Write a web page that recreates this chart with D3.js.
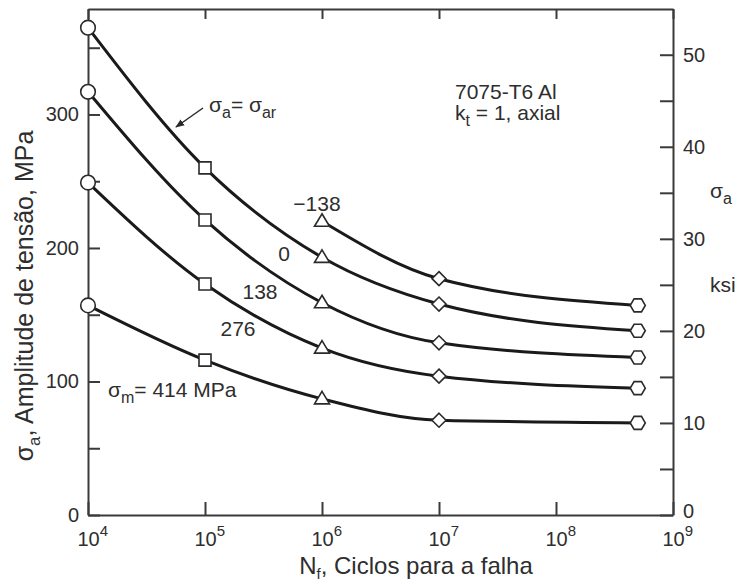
<!DOCTYPE html>
<html lang="pt">
<head>
  <meta charset="UTF-8" />
  <title>7075-T6 Al - curvas S-N</title>
  <style>
    body { margin: 0; background: #fff; }
    svg { display: block; font-family: 'Liberation Sans', Arial, sans-serif; }
    .axis path, .axis line { stroke: #3a3a3a; stroke-width: 2px; }
    .axis text { font-size: 20px; fill: #2e2e2e; font-family: 'Liberation Sans', Arial, sans-serif; }
    .curve { fill: none; stroke: #1a1a1a; stroke-width: 3px; }
    .marker { fill: #fff; stroke: #2a2a2a; stroke-width: 1.6px; }
    .lbl { fill: #2e2e2e; font-size: 21px; }
    .title { fill: #2e2e2e; font-size: 25px; }
  </style>
</head>
<body>
  <svg id="chart" width="739" height="584"></svg>

  <script src="https://d3js.org/d3.v7.min.js"></script>
  <script>
    // dados (MPa)
    const cycles = [1e4, 1e5, 1e6, 1e7, 5e8];
    const markerShapes = ["circle", "square", "triangle", "diamond", "hexagon"];
    const meanStress = [-138, 0, 138, 276, 414];
    const ampM138 = [null, null, 220, 177, 157];
    const amp0 = [365, 260, 193, 158, 138];
    const amp138 = [317, 221, 159, 129, 118];
    const amp276 = [249, 173, 125, 104, 95];
    const amp414 = [157, 116, 87, 71, 69];
    const seriesValues = [ampM138, amp0, amp138, amp276, amp414];

    const xTicks = [1e4, 1e5, 1e6, 1e7, 1e8, 1e9];
    const mpaTicks = [0, 50, 100, 150, 200, 250, 300, 350];
    const mpaLabels = [0, 100, 200, 300];
    const ksiTicks = [0, 5, 10, 15, 20, 25, 30, 35, 40, 45, 50];
    const ksiLabels = [0, 10, 20, 30, 40, 50];
    const MPA_PER_KSI = 6.895;

    const svg = d3.select("#chart");
    const plotLeft = 88, plotRight = 673, plotTop = 9, plotBottom = 515;
    const yMax = 379;

    const x = d3.scaleLog().domain([1e4, 1e9]).range([plotLeft, plotRight]);
    const y = d3.scaleLinear().domain([0, yMax]).range([plotBottom, plotTop]);
    const yKsi = d3.scaleLinear().domain([0, yMax / MPA_PER_KSI]).range([plotBottom, plotTop]);

    // eixos (ticks para dentro)
    const xAxis = svg.append("g").attr("class", "axis")
      .attr("transform", `translate(0,${plotBottom})`)
      .call(d3.axisBottom(x).tickValues(xTicks).tickSize(-13).tickSizeOuter(0));

    xAxis.selectAll(".tick text").each(function (d) {
      const t = d3.select(this);
      t.text(null).attr("dy", null).attr("y", 31).attr("x", -11).attr("text-anchor", "start");
      t.append("tspan").text("10");
      t.append("tspan").attr("dy", -10).style("font-size", "15px").text(Math.round(Math.log10(d)));
    });

    svg.append("g").attr("class", "axis")
      .attr("transform", `translate(0,${plotTop})`)
      .call(d3.axisTop(x).tickValues(xTicks).tickSize(-10).tickSizeOuter(0).tickFormat(""));

    svg.append("g").attr("class", "axis")
      .attr("transform", `translate(${plotLeft},0)`)
      .call(d3.axisLeft(y).tickValues(mpaTicks).tickSize(-12).tickSizeOuter(0).tickPadding(9)
        .tickFormat(d => mpaLabels.includes(d) ? d : ""));

    const rightAxis = svg.append("g").attr("class", "axis")
      .attr("transform", `translate(${plotRight},0)`)
      .call(d3.axisRight(yKsi).tickValues(ksiTicks).tickSize(-13).tickSizeOuter(0).tickPadding(10)
        .tickFormat(d => ksiLabels.includes(d) ? d : ""));
    // o "0" da direita fica um pouco acima, como no original
    rightAxis.selectAll(".tick text").filter(d => d === 0).attr("y", -4);

    // curvas
    const line = d3.line()
      .x(d => x(d.n))
      .y(d => y(d.v))
      .curve(d3.curveMonotoneX);

    const series = meanStress.map((m, i) => ({
      m,
      pts: cycles.map((n, j) => ({ n, v: seriesValues[i][j], shape: markerShapes[j] }))
        .filter(p => p.v != null)
    }));

    svg.selectAll(".curve").data(series).enter()
      .append("path")
      .attr("class", "curve")
      .attr("d", d => line(d.pts));

    function shapePath(shape) {
      switch (shape) {
        case "circle": return d3.symbol(d3.symbolCircle, Math.PI * 7.3 * 7.3)();
        case "square": return "M-6,-6H6V6H-6Z";
        case "triangle": return "M0,-7.5L7.5,5L-7.5,5Z";
        case "diamond": return "M0,-7L7,0L0,7L-7,0Z";
        case "hexagon": return "M-7.5,0L-3.7,-6.5L3.7,-6.5L7.5,0L3.7,6.5L-3.7,6.5Z";
      }
    }

    const pts = series.flatMap(s => s.pts);
    svg.selectAll(".marker").data(pts).enter()
      .append("path")
      .attr("class", "marker")
      .attr("transform", d => `translate(${x(d.n)},${y(d.v)})`)
      .attr("d", d => shapePath(d.shape));

    // textos
    function subText(g, px, py, parts, cls) {
      const t = g.append("text").attr("class", cls || "lbl").attr("x", px).attr("y", py);
      parts.forEach(p => {
        const ts = t.append("tspan").text(p[0]);
        if (p[1] === "sub") ts.attr("dy", 6).style("font-size", "16px");
        if (p[1] === "up") ts.attr("dy", -6);
      });
      return t;
    }

    subText(svg, 455, 99, [["7075-T6 Al"]]);
    subText(svg, 455, 120, [["k"], ["t", "sub"], [" = 1, axial", "up"]]);
    subText(svg, 209, 112, [["σ"], ["a", "sub"], ["= σ", "up"], ["ar", "sub"]]);
    subText(svg, 108, 397, [["σ"], ["m", "sub"], ["= 414 MPa", "up"]]);

    svg.append("text").attr("class", "lbl").attr("x", 317).attr("y", 211).attr("text-anchor", "middle").text("−138");
    svg.append("text").attr("class", "lbl").attr("x", 284).attr("y", 261).attr("text-anchor", "middle").text("0");
    svg.append("text").attr("class", "lbl").attr("x", 260).attr("y", 299).attr("text-anchor", "middle").text("138");
    svg.append("text").attr("class", "lbl").attr("x", 238).attr("y", 336).attr("text-anchor", "middle").text("276");

    // seta σa = σar
    svg.append("defs").append("marker")
      .attr("id", "arrow").attr("viewBox", "0 0 10 10").attr("refX", 9).attr("refY", 5)
      .attr("markerWidth", 9).attr("markerHeight", 9).attr("markerUnits", "userSpaceOnUse")
      .attr("orient", "auto")
      .append("path").attr("d", "M0,1L10,5L0,9Z").attr("fill", "#2a2a2a");
    svg.append("line")
      .attr("x1", 203).attr("y1", 108).attr("x2", 176).attr("y2", 127)
      .attr("stroke", "#2a2a2a").attr("stroke-width", 1.5).attr("marker-end", "url(#arrow)");

    // eixo direito
    subText(svg, 710, 198, [["σ"], ["a", "sub"]]);
    svg.append("text").attr("class", "lbl").attr("x", 710).attr("y", 292).text("ksi");

    // títulos
    const xt = svg.append("text").attr("class", "title").attr("x", 416).attr("y", 574)
      .attr("text-anchor", "middle").style("font-size", "24px");
    xt.append("tspan").text("N");
    xt.append("tspan").attr("dy", 5).style("font-size", "15px").text("f");
    xt.append("tspan").attr("dy", -5).text(", Ciclos para a falha");

    const yt = svg.append("text").attr("class", "title")
      .attr("transform", "translate(33,296) rotate(-90)").attr("text-anchor", "middle");
    yt.append("tspan").text("σ");
    yt.append("tspan").attr("dy", 7).style("font-size", "17px").text("a");
    yt.append("tspan").attr("dy", -7).text(", Amplitude de tensão, MPa");
  </script>
</body>
</html>
